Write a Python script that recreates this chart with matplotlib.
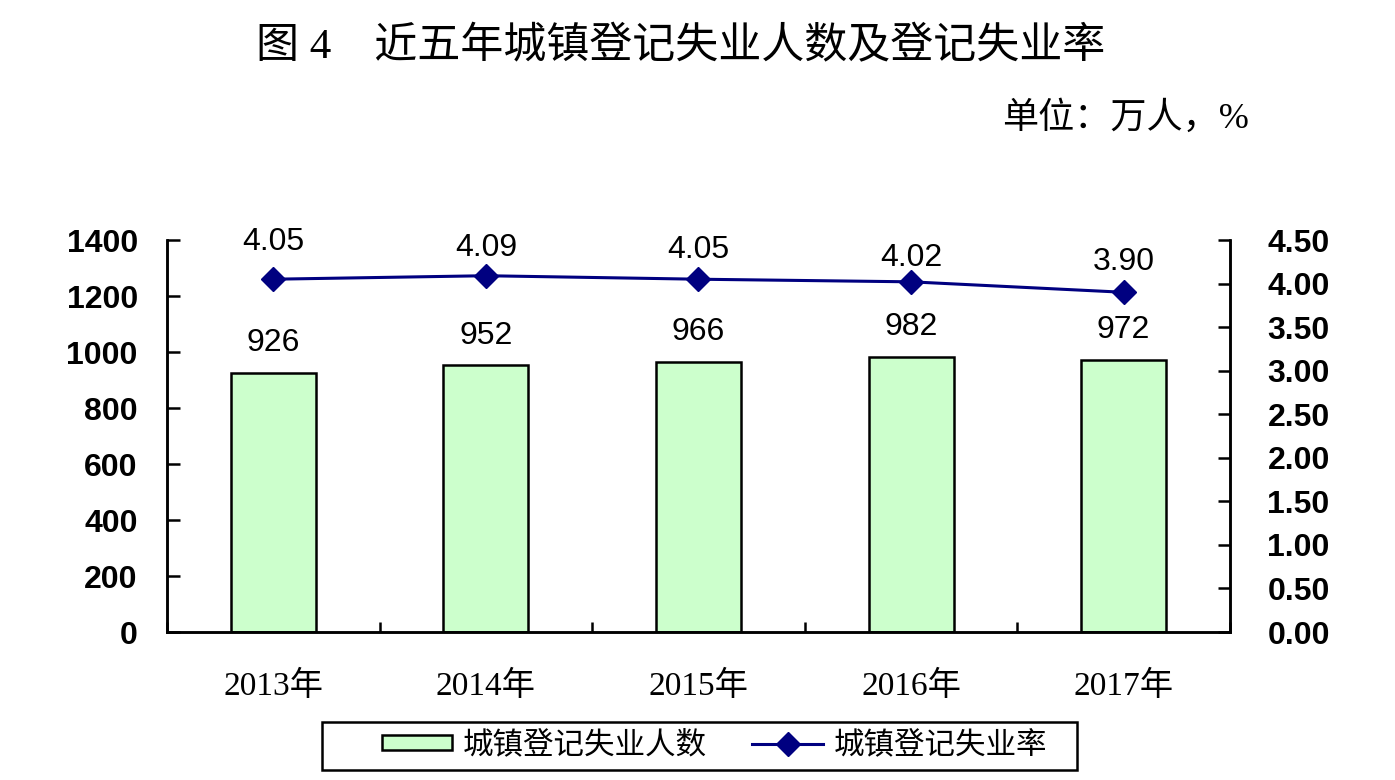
import matplotlib
matplotlib.use("Agg")
import matplotlib.pyplot as plt
from matplotlib.lines import Line2D
from matplotlib.patches import Patch, Rectangle
import numpy as np

years = ["2013年", "2014年", "2015年", "2016年", "2017年"]
unemployed = [926, 952, 966, 982, 972]
rate = [4.05, 4.09, 4.05, 4.02, 3.90]
left_ticks = [0, 200, 400, 600, 800, 1000, 1200, 1400]
right_ticks = [0.0, 0.5, 1.0, 1.5, 2.0, 2.5, 3.0, 3.5, 4.0, 4.5]

# rate labels were nudged by hand in the original, offsets in points
rate_label_offset = [27, 20, 21, 17, 22]

CJK = ["Noto Sans CJK SC", "DejaVu Sans"]
SERIF = ["Liberation Serif", "Noto Sans CJK SC"]
SANS = ["Liberation Sans", "DejaVu Sans"]

plt.rcParams["font.family"] = CJK

fig = plt.figure(figsize=(13.95, 7.8), dpi=100)
ax = fig.add_axes([0.1197, 0.1897, 0.7620, 0.5026])
ax2 = ax.twinx()

x = np.arange(len(years))
ax.bar(x, unemployed, 0.4, color="#CCFFCC", edgecolor="black", linewidth=1.8, zorder=2)
for xi, v in zip(x, unemployed):
    ax.annotate(f"{v}", (xi, v), xytext=(0, 21.5), textcoords="offset points",
                ha="center", va="center", fontsize=23, family=SANS)

ax2.plot(x, rate, color="#000080", lw=2.2, marker="D", ms=12, zorder=3)
for xi, v, off in zip(x, rate, rate_label_offset):
    ax2.annotate(f"{v:.2f}", (xi, v), xytext=(0, off), textcoords="offset points",
                 ha="center", va="center", fontsize=23, family=SANS)

ax.set_xlim(-0.5, len(years) - 0.5)
ax.set_ylim(0, 1400)
ax2.set_ylim(0, 4.5)
ax.set_yticks(left_ticks)
ax.set_yticklabels([str(t) for t in left_ticks], family=SANS, fontsize=23, fontweight="bold")
ax2.set_yticks(right_ticks)
ax2.set_yticklabels([f"{t:.2f}" for t in right_ticks], family=SANS, fontsize=23,
                    fontweight="bold")

ax.set_xticks(x)
ax.set_xticklabels(years, family=SERIF, fontsize=24)
ax.tick_params(axis="x", length=0, pad=28)
ax.set_xticks(np.arange(len(years) + 1) - 0.5, minor=True)
ax.tick_params(axis="x", which="minor", direction="in", length=7, width=1.8)
ax.tick_params(axis="y", direction="in", length=9, width=1.8, pad=21)
ax2.tick_params(axis="y", direction="in", length=9, width=1.8, pad=27)

for a in (ax, ax2):
    a.spines["top"].set_visible(False)
    for s in ("left", "right", "bottom"):
        a.spines[s].set_linewidth(1.8)

fig.text(0.488, 0.94, "图 4　近五年城镇登记失业人数及登记失业率", ha="center", va="center",
         fontsize=31, family=SERIF)
fig.text(0.895, 0.848, "单位：万人，%", ha="right", va="center", fontsize=26, family=SERIF)

# legend box drawn separately, the original has a wide left margin inside it
fig.patches.append(Rectangle((0.2308, 0.0128), 0.5412, 0.0615, transform=fig.transFigure,
                             facecolor="none", edgecolor="black", linewidth=1.8))
handles = [Patch(facecolor="#CCFFCC", edgecolor="black", linewidth=1.8),
           Line2D([0], [0], color="#000080", lw=2.2, marker="D", ms=12)]
fig.legend(handles, ["城镇登记失业人数", "城镇登记失业率"], loc="center",
           bbox_to_anchor=(0.512, 0.044), ncol=2, frameon=False,
           columnspacing=1.5, handlelength=2.3, handleheight=0.4, handletextpad=0.35,
           borderpad=0, borderaxespad=0, prop={"family": SERIF, "size": 22})

fig.savefig("out.png", dpi=100)
